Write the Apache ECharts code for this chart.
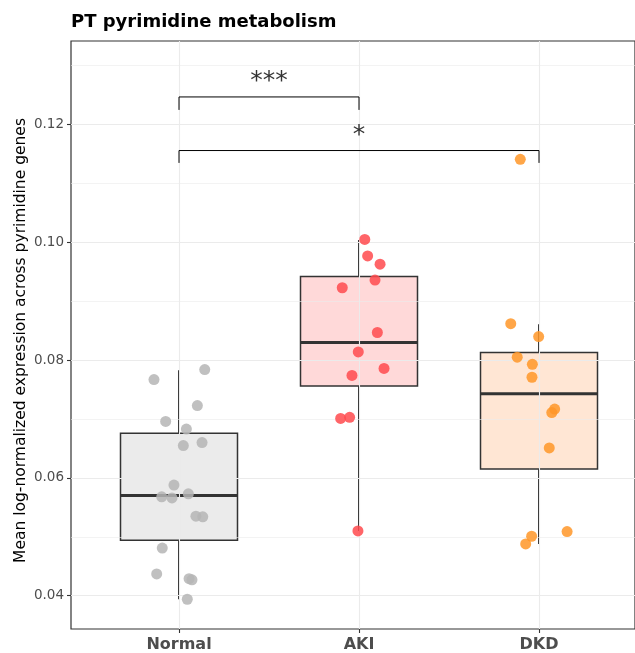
<!DOCTYPE html>
<html>
<head>
<meta charset="utf-8">
<script src="https://cdn.jsdelivr.net/npm/echarts@6/dist/echarts.min.js"></script>
<style>html,body{margin:0;padding:0;background:#fff}#c{width:635px;height:653px}</style>
</head>
<body>
<div id="c"></div>
<script>
// ---- data ----
var categories = ['Normal', 'AKI', 'DKD'];

var normalValues = [0.0767, 0.0784, 0.0723, 0.0696, 0.0683, 0.0655, 0.0660, 0.0588, 0.0568, 0.0566, 0.0573, 0.0535, 0.0534, 0.0481, 0.0437, 0.0429, 0.0427, 0.0394];
var normalJitter = [-0.139, 0.143, 0.102, -0.074, 0.041, 0.024, 0.128, -0.028, -0.096, -0.039, 0.052, 0.094, 0.132, -0.093, -0.124, 0.056, 0.072, 0.046];

var akiValues = [0.1005, 0.0977, 0.0963, 0.0936, 0.0923, 0.0847, 0.0814, 0.0786, 0.0774, 0.0701, 0.0703, 0.0510];
var akiJitter = [0.032, 0.048, 0.117, 0.089, -0.093, 0.102, -0.004, 0.139, -0.039, -0.102, -0.052, -0.006];

var dkdValues = [0.1141, 0.0862, 0.0840, 0.0805, 0.0793, 0.0771, 0.0717, 0.0711, 0.0651, 0.0509, 0.0501, 0.0488];
var dkdJitter = [-0.104, -0.157, -0.002, -0.121, -0.037, -0.039, 0.087, 0.071, 0.057, 0.156, -0.041, -0.074];

// box stats: [low whisker, Q1, median, Q3, high whisker]
var boxNormal = [0.0394, 0.0494, 0.0570, 0.0676, 0.0783];
var boxAKI = [0.0510, 0.0756, 0.0830, 0.0942, 0.1004];
var boxDKD = [0.0488, 0.0615, 0.0743, 0.0813, 0.0861];

var yTicks = [0.04, 0.06, 0.08, 0.10, 0.12];
var yMinor = [0.05, 0.07, 0.09, 0.11, 0.13];

// significance brackets: [from category, to category, bar level, tip level, label, label level]
var brackets = [
  [1, 2, 0.1247, 0.1225, '***', 0.1273],
  [1, 3, 0.1156, 0.1135, '*', 0.1182]
];

// ---- styling ----
var pointColors = ['#B5B5B5', '#FF4A4D', '#FF9628'];
var boxFills = ['#EBEBEB', '#FFD9D9', '#FFE6D4'];
var boxHalf = 0.325;

var chart = echarts.init(document.getElementById('c'), null, {renderer: 'canvas'});

function toPts(vals, jit, cat) {
  return vals.map(function (v, i) { return [cat + jit[i], v]; });
}

var gridLines = [];
yTicks.forEach(function (v) { gridLines.push({yAxis: v, lineStyle: {width: 1.1}}); });
yMinor.forEach(function (v) { gridLines.push({yAxis: v, lineStyle: {width: 0.6}}); });
[1, 2, 3].forEach(function (v) { gridLines.push({xAxis: v, lineStyle: {width: 1.1}}); });

var boxData = [boxNormal, boxAKI, boxDKD].map(function (b, i) { return [i + 1].concat(b); });

var series = [];
// grid lines via markLine
series.push({
  type: 'line', data: [], silent: true,
  markLine: {
    silent: true, symbol: 'none', label: {show: false}, animation: false,
    lineStyle: {color: '#EBEBEB', type: 'solid'},
    data: gridLines
  }
});
// boxes
series.push({
  type: 'custom', data: boxData, silent: true, z: 3,
  encode: {x: 0, y: [1, 2, 3, 4, 5]},
  renderItem: function (params, api) {
    var x = api.value(0), lo = api.value(1), q1 = api.value(2), med = api.value(3), q3 = api.value(4), hi = api.value(5);
    var tl = api.coord([x - boxHalf, q3]), br = api.coord([x + boxHalf, q1]);
    var cHi = api.coord([x, hi]), cQ3 = api.coord([x, q3]), cQ1 = api.coord([x, q1]), cLo = api.coord([x, lo]);
    var mL = api.coord([x - boxHalf, med]), mR = api.coord([x + boxHalf, med]);
    var cx = Math.round(cHi[0]);
    return {
      type: 'group', children: [
        {type: 'line', shape: {x1: cx, y1: cHi[1], x2: cx, y2: cQ3[1]}, style: {stroke: '#333333', lineWidth: 2}},
        {type: 'line', shape: {x1: cx, y1: cLo[1], x2: cx, y2: cQ1[1]}, style: {stroke: '#333333', lineWidth: 2}},
        {type: 'rect', shape: {x: tl[0], y: tl[1], width: br[0] - tl[0], height: br[1] - tl[1]}, style: {fill: boxFills[params.dataIndex], stroke: '#333333', lineWidth: 1.5}},
        {type: 'line', shape: {x1: mL[0], y1: mL[1], x2: mR[0], y2: mR[1]}, style: {stroke: '#333333', lineWidth: 3}}
      ]
    };
  }
});
// points
[[normalValues, normalJitter], [akiValues, akiJitter], [dkdValues, dkdJitter]].forEach(function (g, i) {
  series.push({
    type: 'scatter', data: toPts(g[0], g[1], i + 1), symbolSize: 11, z: 5, silent: true,
    itemStyle: {color: pointColors[i], opacity: 0.85}
  });
});
// brackets
brackets.forEach(function (b) {
  series.push({
    type: 'line', silent: true, z: 6, symbol: 'none', animation: false,
    lineStyle: {color: '#000000', width: 1},
    data: [[b[0], b[3]], [b[0], b[2]], [b[1], b[2]], [b[1], b[3]]]
  });
  series.push({
    type: 'scatter', silent: true, z: 6, symbolSize: 0,
    data: [[(b[0] + b[1]) / 2, b[5]]],
    label: {show: true, position: 'inside', formatter: b[4], fontSize: 25, color: '#000000', fontFamily: 'DejaVu Sans'}
  });
});

chart.setOption({
  animation: false,
  backgroundColor: '#ffffff',
  textStyle: {fontFamily: 'DejaVu Sans'},
  title: {
    text: 'PT pyrimidine metabolism', left: 66, top: 8,
    textStyle: {fontSize: 18, fontWeight: 'bold', color: '#000000', fontFamily: 'DejaVu Sans'}
  },
  grid: {left: 71, top: 41, right: 0, bottom: 21.3, show: true, borderColor: '#333333', borderWidth: 1.2, backgroundColor: '#ffffff', containLabel: false},
  xAxis: {
    type: 'value', min: 0.4, max: 3.5333,
    splitLine: {show: false},
    axisLine: {show: false},
    axisTick: {show: true, length: 4, lineStyle: {color: '#333333', width: 1.1}, customValues: [1, 2, 3]},
    axisLabel: {
      customValues: [1, 2, 3], margin: 8,
      formatter: function (v) { return categories[Math.round(v) - 1]; },
      fontSize: 16, fontWeight: 'bold', color: '#4D4D4D', fontFamily: 'DejaVu Sans'
    }
  },
  yAxis: {
    type: 'value', min: 0.03435, max: 0.1342,
    splitLine: {show: false},
    axisLine: {show: false},
    axisTick: {show: true, length: 4, lineStyle: {color: '#333333', width: 1.1}, customValues: yTicks},
    axisLabel: {
      customValues: yTicks, margin: 7,
      formatter: function (v) { return v.toFixed(2); },
      fontSize: 13.5, color: '#4D4D4D', fontFamily: 'DejaVu Sans'
    }
  },
  graphic: [{
    type: 'text', x: 20.5, y: 340.5, rotation: Math.PI / 2,
    style: {text: 'Mean log-normalized expression across pyrimidine genes', fontSize: 15.5, fill: '#000000', fontFamily: 'DejaVu Sans', align: 'center', verticalAlign: 'middle'}
  }],
  series: series
});
</script>
</body>
</html>
